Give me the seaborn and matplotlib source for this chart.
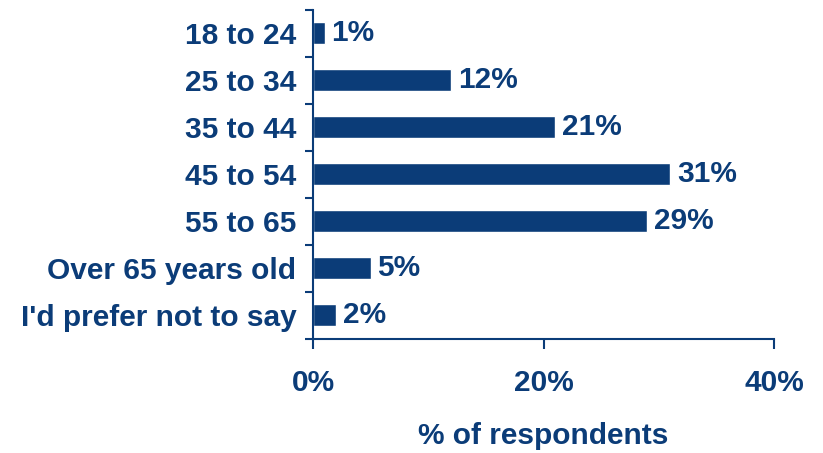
import matplotlib
matplotlib.use("Agg")
import matplotlib.pyplot as plt
import seaborn as sns
import pandas as pd
import numpy as np
from matplotlib.ticker import FixedLocator

categories = ["18 to 24", "25 to 34", "35 to 44", "45 to 54", "55 to 65",
              "Over 65 years old", "I'd prefer not to say"]
values = [1, 12, 21, 31, 29, 5, 2]
xticks = [0, 20, 40]
xtick_labels = ["0%", "20%", "40%"]

navy = "#0B3C78"
fs = 21.5

sns.set_theme(style="white")
plt.rcParams["font.family"] = ["Liberation Sans", "DejaVu Sans"]
plt.rcParams["font.weight"] = "bold"

df = pd.DataFrame({"age": categories, "pct": values})

fig = plt.figure(figsize=(8.23, 4.53), dpi=100)
ax = fig.add_axes([0.3803, 0.2527, 0.5602, 0.7263])

sns.barplot(data=df, y="age", x="pct", orient="h", color=navy,
            saturation=1, width=0.47, ax=ax)

ax.set_xlim(0, 40)
ax.set_ylim(len(categories) - 0.5, -0.5)
ax.set_xticks(xticks)
ax.set_xticklabels(xtick_labels)
ax.yaxis.set_minor_locator(FixedLocator(np.arange(-0.5, len(categories), 1)))

for spine in ["top", "right"]:
    ax.spines[spine].set_visible(False)
for spine in ["left", "bottom"]:
    ax.spines[spine].set_color(navy)
    ax.spines[spine].set_linewidth(1.5)

ax.tick_params(axis="x", which="major", direction="out", length=7, width=1.5,
               color=navy, labelcolor=navy, labelsize=fs, pad=15, bottom=True)
ax.tick_params(axis="y", which="major", length=0, labelcolor=navy,
               labelsize=fs, pad=12)
ax.tick_params(axis="y", which="minor", direction="out", length=6, width=1.5,
               color=navy, left=True)

for lbl in ax.get_xticklabels() + ax.get_yticklabels():
    lbl.set_fontweight("bold")

ax.set_ylabel("")
ax.set_xlabel("% of respondents", fontsize=fs, fontweight="bold",
              color=navy, labelpad=18)

for i, v in enumerate(values):
    ax.text(v + 0.6, i, f"{v}%", va="center", ha="left", fontsize=fs,
            fontweight="bold", color=navy)

fig.savefig("out.png", dpi=100)
